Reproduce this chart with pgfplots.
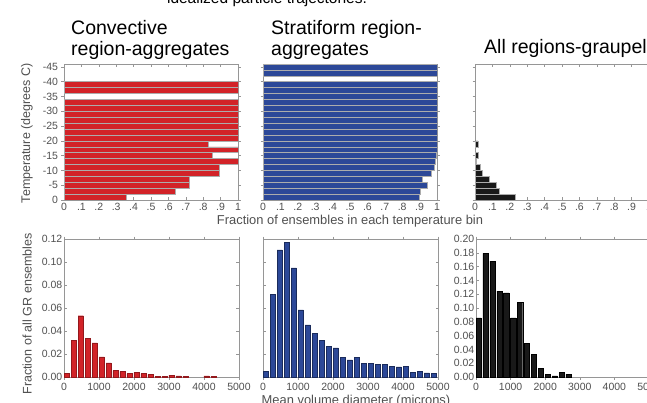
\documentclass[border=0pt]{standalone}
\usepackage{pgfplots}
\pgfplotsset{compat=1.18}
\usepackage{fontspec}
\setmainfont{Liberation Sans}
\definecolor{cred}{RGB}{210,35,40}
\definecolor{cblue}{RGB}{44,72,152}
\definecolor{cblack}{RGB}{25,25,25}
\definecolor{axgray}{RGB}{150,150,150}
\definecolor{lblgray}{RGB}{80,80,80}

\pgfplotsset{
  base/.style={
    scale only axis,
    axis line style={axgray, line width=0.6pt},
    tick style={axgray, line width=0.5pt},
    tick align=inside,
    major tick length=2.5pt,
    /pgf/number format/assume math mode=true,
    tick label style={font=\fontsize{10.5}{12}\selectfont, text=lblgray},
    label style={font=\fontsize{12.5}{14}\selectfont, text=lblgray},
  },
  toppanel/.style={base, xbar, width=174pt, height=136pt,
    xmin=0, xmax=1, ymin=-46, ymax=0, y dir=reverse,
    xtick={0,0.1,0.2,0.3,0.4,0.5,0.6,0.7,0.8,0.9,1},
    xticklabels={0,.1,.2,.3,.4,.5,.6,.7,.8,.9,1},
    ytick={-45,-40,-35,-30,-25,-20,-15,-10,-5,0},
    yticklabels={},
    bar width=2,
  },
  botpanel/.style={base, ybar, width=175pt, height=138pt,
    xmin=0, xmax=5000, ymin=0,
    xtick={0,1000,2000,3000,4000,5000},
    xticklabels={0,1000,2000,3000,4000,5000},
    yticklabel style={inner sep=1.5pt},
    bar width=150,
  },
  topbar/.style={draw=gray!65, line width=0.5pt},
}

\begin{document}
\begin{tikzpicture}
\path[use as bounding box] (0pt,0pt) rectangle (647pt,402pt);
\clip (0pt,0pt) rectangle (647pt,402pt);

% caption fragment and titles
\node[anchor=base, font=\fontsize{15.5}{18}\selectfont, inner sep=0pt] at (267pt,398pt) {idealized particle trajectories.};
\node[anchor=base west, font=\fontsize{19.5}{21}\selectfont, inner sep=0pt] at (71pt,367pt) {Convective};
\node[anchor=base west, font=\fontsize{19.5}{21}\selectfont, inner sep=0pt] at (71pt,346pt) {region-aggregates};
\node[anchor=base west, font=\fontsize{19.5}{21}\selectfont, inner sep=0pt] at (271pt,367pt) {Stratiform region-};
\node[anchor=base west, font=\fontsize{19.5}{21}\selectfont, inner sep=0pt] at (271pt,346pt) {aggregates};
\node[anchor=base west, font=\fontsize{19.5}{21}\selectfont, inner sep=0pt] at (484pt,348pt) {All regions-graupel};

% ---------- top row ----------
\begin{axis}[toppanel, at={(64pt,338pt)}, anchor=north west,
  yticklabels={-45,-40,-35,-30,-25,-20,-15,-10,-5,0},
  ylabel={Temperature (degrees C)},
  ylabel style={at={(axis description cs:-0.213,0.49)}, anchor=center}]
\addplot[topbar, fill=cred] coordinates {
  (0.357,-1) (0.637,-3) (0.72,-5) (0.72,-7) (0.893,-9) (0.893,-11)
  (1,-13) (0.85,-15) (1,-17) (0.83,-19) (1,-21) (1,-23) (1,-25)
  (1,-27) (1,-29) (1,-31) (1,-33) (1,-37) (1,-39)};
\end{axis}

\begin{axis}[toppanel, at={(263pt,338pt)}, anchor=north west]
\addplot[topbar, fill=cblue] coordinates {
  (0.90,-1) (0.906,-3) (0.945,-5) (0.916,-7) (0.966,-9) (0.986,-11)
  (0.99,-13) (0.995,-15) (1,-17) (1,-19) (1,-21) (1,-23) (1,-25)
  (1,-27) (1,-29) (1,-31) (1,-33) (1,-35) (1,-37) (1,-39)
  (1,-43) (1,-45)};
\end{axis}

\begin{axis}[toppanel, at={(475pt,338pt)}, anchor=north west]
\addplot[topbar, fill=cblack] coordinates {
  (0.229,-1) (0.14,-3) (0.121,-5) (0.082,-7) (0.044,-9) (0.029,-11)
  (0.008,-13) (0.016,-15) (0.016,-19)};
\end{axis}

\node[anchor=base, font=\fontsize{12.9}{14}\selectfont, text=lblgray] at (350pt,178pt) {Fraction of ensembles in each temperature bin};

% ---------- bottom row ----------
\begin{axis}[botpanel, at={(64pt,163pt)}, anchor=north west,
  ymax=0.12,
  ytick={0,0.02,0.04,0.06,0.08,0.10,0.12},
  yticklabels={0.00,0.02,0.04,0.06,0.08,0.10,0.12},
  ylabel={Fraction of all GR ensembles},
  ylabel style={at={(axis description cs:-0.211,0.457)}, anchor=center}]
\addplot[fill=cred, draw=cred!70!black, line width=0.4pt] coordinates {
  (75,0.0029) (275,0.032) (475,0.0533) (675,0.0335) (875,0.0297)
  (1075,0.0175) (1275,0.0122) (1475,0.0055) (1675,0.005) (1875,0.0029)
  (2075,0.0038) (2275,0.0029) (2475,0.0023) (2675,0.0006) (2875,0.0006)
  (3075,0.0017) (3275,0.0009) (3475,0.0006) (4075,0.0009) (4275,0.0006)};
\end{axis}

\begin{axis}[botpanel, at={(263pt,163pt)}, anchor=north west,
  ymax=0.12,
  ytick={0,0.02,0.04,0.06,0.08,0.10,0.12},
  yticklabels={}]
\addplot[fill=cblue, draw=cblue!60!black, line width=0.4pt] coordinates {
  (75,0.0052) (275,0.0717) (475,0.1105) (675,0.1171) (875,0.0948)
  (1075,0.0584) (1275,0.0454) (1475,0.0382) (1675,0.0318) (1875,0.0266)
  (2075,0.0254) (2275,0.0173) (2475,0.0150) (2675,0.0173) (2875,0.0121)
  (3075,0.0121) (3275,0.0110) (3475,0.0110) (3675,0.0093) (3875,0.0087)
  (4075,0.0093) (4275,0.0040) (4475,0.0052) (4675,0.0035) (4875,0.0029)};
\end{axis}

\begin{axis}[botpanel, at={(476pt,163pt)}, anchor=north west, width=173pt,
  ymax=0.20,
  ytick={0,0.02,0.04,0.06,0.08,0.10,0.12,0.14,0.16,0.18,0.20},
  yticklabels={0.00,0.02,0.04,0.06,0.08,0.10,0.12,0.14,0.16,0.18,0.20}]
\addplot[fill=cblack, draw=black, line width=0.4pt] coordinates {
  (75,0.0856) (275,0.179) (475,0.168) (675,0.1246) (875,0.122)
  (1075,0.0856) (1275,0.1085) (1475,0.049) (1675,0.033) (1875,0.0127)
  (2075,0.0039) (2275,0.0015) (2475,0.0063) (2675,0.0039)};
\end{axis}

\node[anchor=base, font=\fontsize{12.9}{14}\selectfont, text=lblgray] at (356pt,-2pt) {Mean volume diameter (microns)};
\end{tikzpicture}
\end{document}
